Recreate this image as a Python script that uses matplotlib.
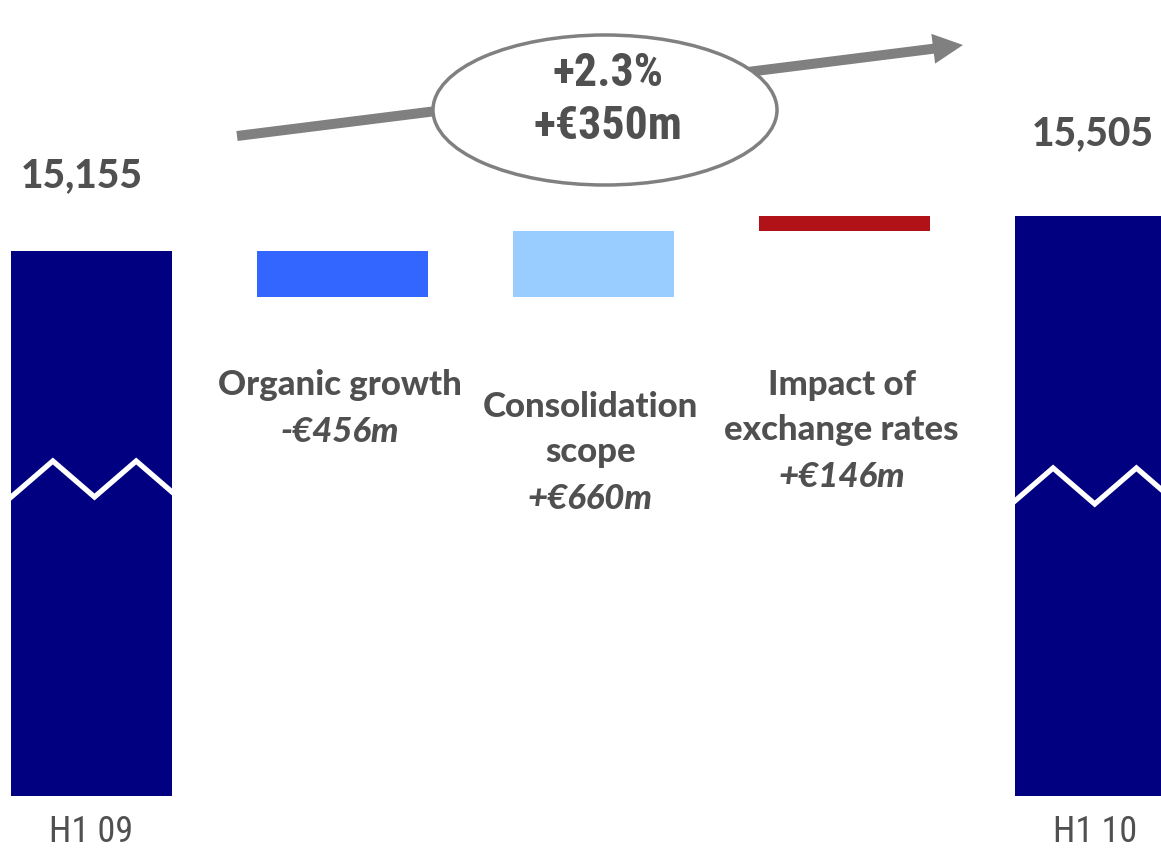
import matplotlib.pyplot as plt
from matplotlib.patches import Ellipse, FancyArrow
import numpy as np

# Revenue bridge H1 09 -> H1 10 (EUR m)
start_label = "H1 09"
end_label = "H1 10"
start_value = 15155
end_value = 15505
step_names = ["Organic growth", "Consolidation\nscope", "Impact of\nexchange rates"]
step_values = [-456, 660, 146]
step_texts = ["-€456m", "+€660m", "+€146m"]
growth_pct = "+2.3%"
growth_abs = "+€350m"

navy = "#000080"
step_colors = ["#3366FF", "#99CCFF", "#B11218"]
text_grey = "#505050"
arrow_grey = "#808080"
label_font = ["Lato", "DejaVu Sans"]
narrow_font = ["Roboto Condensed", "Roboto", "DejaVu Sans"]

W, H = 1161, 852
fig = plt.figure(figsize=(W / 100, H / 100), dpi=100)
ax = fig.add_axes([0, 56 / H, 1, 796 / H])
ax.axis("off")
y_min, y_max = 9705, 17665
ax.set_xlim(-0.3645, 4.261)
ax.set_ylim(y_min, y_max)

# Waterfall steps
cum = start_value + np.cumsum([0] + step_values)
x_pos = np.arange(len(step_values) + 2)
widths = [0.64, 0.68, 0.64, 0.68, 0.64]

ax.bar(x_pos[0], start_value, width=widths[0], color=navy, zorder=2)
ax.bar(x_pos[-1], end_value, width=widths[-1], color=navy, zorder=2)
for i, delta in enumerate(step_values):
    bottom = min(cum[i], cum[i + 1])
    ax.bar(x_pos[i + 1], abs(delta), bottom=bottom, width=widths[i + 1],
           color=step_colors[i], zorder=2)


# Zigzag "axis break" across the two total bars
def draw_break(xc, w, y_low, amp=360, shift=0.0):
    left = xc - w / 2 + shift
    xs = left + 0.166 * np.arange(5)
    ys = [y_low if k % 2 == 0 else y_low + amp for k in range(5)]
    line, = ax.plot(xs, ys, color="white", lw=3.8, zorder=3, solid_joinstyle="miter")
    clip = plt.Rectangle((xc - w / 2, y_min), w, y_max - y_min, transform=ax.transData)
    line.set_clip_path(clip)


draw_break(x_pos[0], widths[0], 12695, shift=0.0)
draw_break(x_pos[-1], widths[-1], 12625, shift=-0.015)

# Totals above the end bars
ax.annotate(f"{start_value:,}", (x_pos[0], start_value), xytext=(-10, 64),
            textcoords="offset pixels", ha="center", va="baseline",
            fontsize=28, fontweight=900, color=text_grey, family=label_font)
ax.annotate(f"{end_value:,}", (x_pos[-1], end_value), xytext=(-3, 71),
            textcoords="offset pixels", ha="center", va="baseline",
            fontsize=28, fontweight=900, color=text_grey, family=label_font)

# Period labels
for xp, lab in [(x_pos[0], start_label), (x_pos[-1], end_label)]:
    ax.annotate(lab, (xp, y_min), xytext=(0, -46), textcoords="offset pixels",
                ha="center", va="baseline", fontsize=26, color=text_grey,
                family=narrow_font)

# Step descriptions under the floating bars
label_tops = [385, 407, 385]
for i, name in enumerate(step_names):
    n_lines = name.count("\n") + 1
    x_fig = (91.5 + 251 * x_pos[i + 1] - 3) / W
    y0 = label_tops[i]
    for k, line in enumerate(name.split("\n")):
        fig.text(x_fig, 1 - (y0 + 45 * k) / H, line, ha="center", va="center",
                 fontsize=25, fontweight=900, color=text_grey, family=label_font)
    fig.text(x_fig, 1 - (y0 + 45 * n_lines + 2) / H, step_texts[i], ha="center",
             va="center", fontsize=25, fontweight=900, style="italic",
             color=text_grey, family=label_font)

# Overall growth arrow with the ellipse callout
over = fig.add_axes([0, 0, 1, 1], facecolor="none")
over.set_xlim(0, W)
over.set_ylim(H, 0)
over.axis("off")
over.add_patch(FancyArrow(237, 136, 726, -91, width=10, head_width=30,
                          head_length=30, length_includes_head=True,
                          color=arrow_grey, lw=0, zorder=1))
over.add_patch(Ellipse((605, 110), 344, 150, facecolor="white",
                       edgecolor=arrow_grey, lw=2.5, zorder=2))
over.text(608, 73, growth_pct, ha="center", va="center", fontsize=33,
          fontweight="bold", color=text_grey, zorder=3, family=narrow_font)
over.text(608, 126, growth_abs, ha="center", va="center", fontsize=33,
          fontweight="bold", color=text_grey, zorder=3, family=narrow_font)

plt.savefig("out.png", dpi=100)
